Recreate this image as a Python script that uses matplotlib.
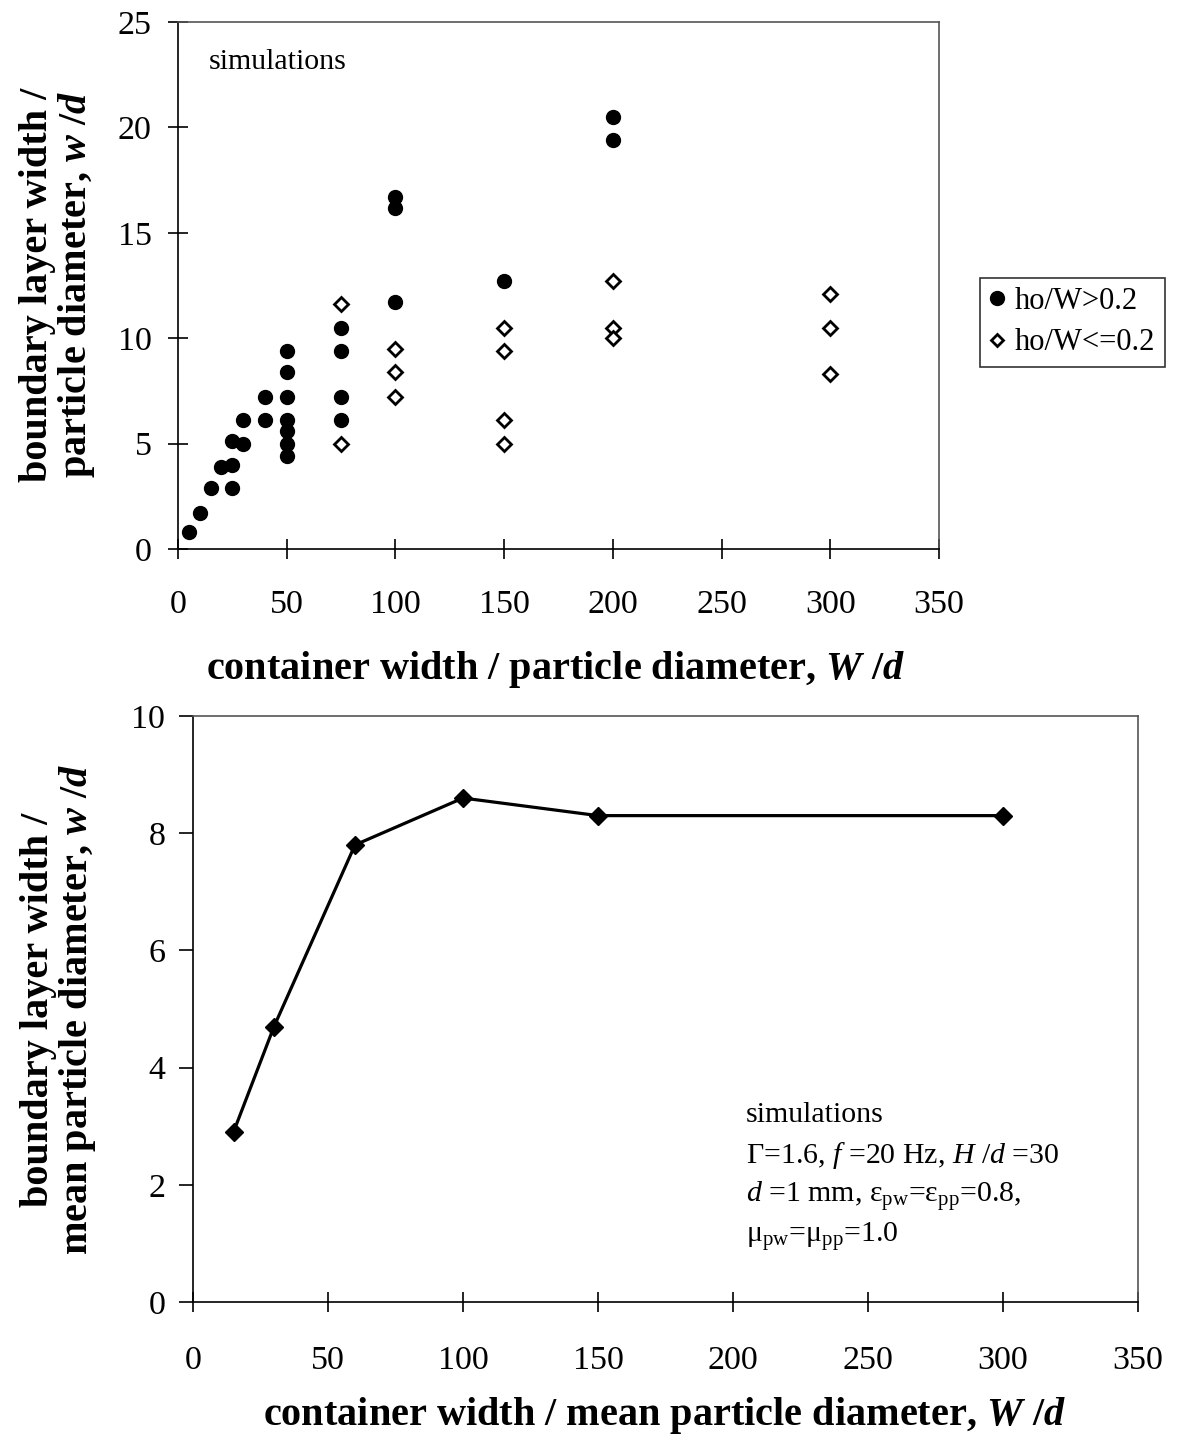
import matplotlib
matplotlib.use("Agg")
import matplotlib.pyplot as plt
from matplotlib.lines import Line2D

plt.rcParams['font.family'] = ['Liberation Serif', 'DejaVu Serif']
plt.rcParams['mathtext.fontset'] = 'custom'
plt.rcParams['mathtext.rm'] = 'Liberation Serif'
plt.rcParams['mathtext.it'] = 'Liberation Serif:italic'
plt.rcParams['mathtext.bf'] = 'Liberation Serif:italic:bold'

# ---------------- data ----------------
# top chart: ho/W > 0.2 (filled circles)
hi_x = [5, 10, 15, 20, 25, 25, 25, 30, 30, 40, 40,
        50, 50, 50, 50, 50, 50, 50, 75, 75, 75, 75,
        100, 100, 100, 150, 200, 200]
hi_y = [0.8, 1.7, 2.9, 3.9, 4.0, 2.9, 5.1, 5.0, 6.1, 6.1, 7.2,
        9.4, 8.4, 7.2, 6.1, 5.6, 5.0, 4.4, 10.5, 9.4, 7.2, 6.1,
        16.7, 16.2, 11.7, 12.7, 20.5, 19.4]
# top chart: ho/W <= 0.2 (open diamonds)
lo_x = [75, 75, 100, 100, 100, 150, 150, 150, 150, 200, 200, 200, 300, 300, 300]
lo_y = [11.6, 5.0, 9.5, 8.4, 7.2, 10.5, 9.4, 6.1, 5.0, 12.7, 10.5, 10.0, 12.1, 10.5, 8.3]

# bottom chart
bot_x = [15, 30, 60, 100, 150, 300]
bot_y = [2.9, 4.7, 7.8, 8.6, 8.3, 8.3]

top_xticks = [0, 50, 100, 150, 200, 250, 300, 350]
top_yticks = [0, 5, 10, 15, 20, 25]
bot_xticks = [0, 50, 100, 150, 200, 250, 300, 350]
bot_yticks = [0, 2, 4, 6, 8, 10]

W, H = 1183, 1439
fig = plt.figure(figsize=(W / 100, H / 100), dpi=100)

def fx(px):
    return px / W

def fy(py):
    return 1 - py / H

TICK_FS = 24.5
LABEL_FS = 29
SMALL_FS = 21.5
LEG_FS = 22

# ---------------- top axes ----------------
ax1 = fig.add_axes([fx(178), fy(549), fx(939) - fx(178), fy(22) - fy(549)])
ax1.plot(hi_x, hi_y, linestyle='none', marker='o', markersize=10,
         markerfacecolor='black', markeredgecolor='black', label='ho/W>0.2')
ax1.plot(lo_x, lo_y, linestyle='none', marker='D', markersize=7.5,
         markerfacecolor='white', markeredgecolor='black', markeredgewidth=2,
         label='ho/W<=0.2')
ax1.set_xlim(0, 350)
ax1.set_ylim(0, 25)
ax1.set_xticks(top_xticks)
ax1.set_yticks(top_yticks)
ax1.tick_params(axis='both', direction='inout', length=14, width=1.2,
                labelsize=TICK_FS, colors='black')
ax1.tick_params(axis='x', pad=22)
ax1.tick_params(axis='y', pad=12)
for s in ax1.spines.values():
    s.set_color('#555555')
    s.set_linewidth(1.2)
ax1.spines['left'].set_color('black')
ax1.spines['bottom'].set_color('black')
ax1.text(0.04, 0.925, 'simulations', transform=ax1.transAxes,
         fontsize=SMALL_FS, ha='left', va='center')

handles = [Line2D([], [], linestyle='none', marker='o', markersize=10,
                  markerfacecolor='black', markeredgecolor='black'),
           Line2D([], [], linestyle='none', marker='D', markersize=6,
                  markerfacecolor='white', markeredgecolor='black',
                  markeredgewidth=2)]
leg = fig.legend(handles, ['ho/W>0.2', 'ho/W<=0.2'],
                 loc='upper left', bbox_to_anchor=(fx(980), fy(278)),
                 fontsize=LEG_FS, frameon=True, fancybox=False,
                 handlelength=0.5, handletextpad=0.35, borderpad=0.3,
                 labelspacing=0.4, borderaxespad=0)
leg.get_frame().set_edgecolor('black')
leg.get_frame().set_linewidth(1.2)

fig.text(fx(58), fy(285), 'boundary layer width /\nparticle diameter, $\\mathbf{w}$ /$\\mathbf{d}$',
         rotation=90, ha='center', va='center', multialignment='center',
         fontsize=LABEL_FS, fontweight='bold', linespacing=1.03)
fig.text(fx(555), fy(670), 'container width / particle diameter, $\\mathbf{W}$ /$\\mathbf{d}$',
         ha='center', va='center', fontsize=LABEL_FS, fontweight='bold')

# ---------------- bottom axes ----------------
ax2 = fig.add_axes([fx(193), fy(1302), fx(1138) - fx(193), fy(716) - fy(1302)])
ax2.plot(bot_x, bot_y, color='black', linewidth=2.3, marker='D', markersize=9.5,
         markerfacecolor='black', markeredgecolor='black')
ax2.set_xlim(0, 350)
ax2.set_ylim(0, 10)
ax2.set_xticks(bot_xticks)
ax2.set_yticks(bot_yticks)
ax2.tick_params(axis='x', direction='inout', length=14, width=1.2,
                labelsize=TICK_FS, pad=24)
ax2.tick_params(axis='y', direction='out', length=10, width=1.2,
                labelsize=TICK_FS, pad=10)
for s in ax2.spines.values():
    s.set_color('#555555')
    s.set_linewidth(1.2)
ax2.spines['left'].set_color('black')
ax2.spines['bottom'].set_color('black')

ann = ['simulations',
       'Γ=1.6, $\\mathit{f}$ =20 Hz, $\\mathit{H}$ /$\\mathit{d}$ =30',
       '$\\mathit{d}$ =1 mm, $\\mathrm{ε}_{\\mathrm{pw}}$=$\\mathrm{ε}_{\\mathrm{pp}}$=0.8,',
       '$\\mathrm{μ}_{\\mathrm{pw}}$=$\\mathrm{μ}_{\\mathrm{pp}}$=1.0']
for i, line in enumerate(ann):
    fig.text(fx(746), fy(1115 + 40.5 * i), line, ha='left', va='center',
             fontsize=SMALL_FS)

fig.text(fx(59), fy(1010), 'boundary layer width /\nmean particle diameter, $\\mathbf{w}$ /$\\mathbf{d}$',
         rotation=90, ha='center', va='center', multialignment='center',
         fontsize=LABEL_FS, fontweight='bold', linespacing=1.03)
fig.text(fx(664), fy(1416), 'container width / mean particle diameter, $\\mathbf{W}$ /$\\mathbf{d}$',
         ha='center', va='center', fontsize=LABEL_FS, fontweight='bold')

fig.savefig('out.png', dpi=100, facecolor='white')
